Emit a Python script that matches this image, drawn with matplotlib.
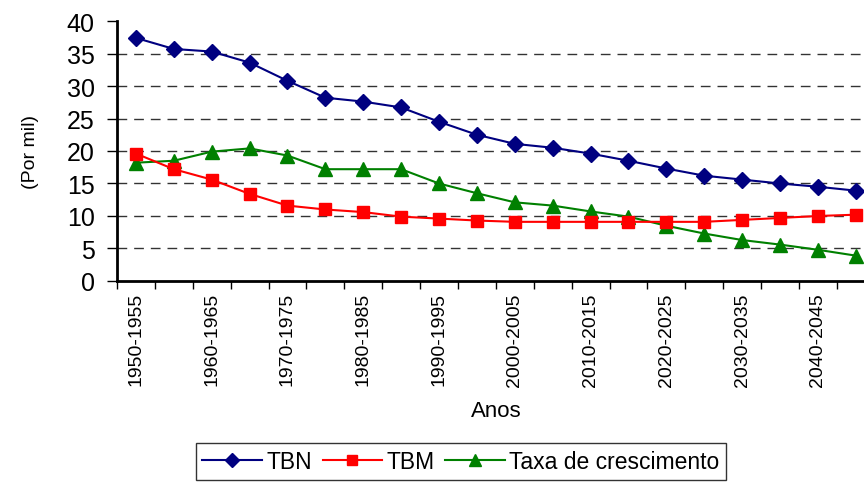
import numpy as np
import matplotlib
matplotlib.use("Agg")
import matplotlib.pyplot as plt

plt.rcParams['font.family'] = ['Liberation Sans', 'DejaVu Sans']

# periods (5-year intervals)
periodos = ['1950-1955', '1955-1960', '1960-1965', '1965-1970', '1970-1975',
            '1975-1980', '1980-1985', '1985-1990', '1990-1995', '1995-2000',
            '2000-2005', '2005-2010', '2010-2015', '2015-2020', '2020-2025',
            '2025-2030', '2030-2035', '2035-2040', '2040-2045', '2045-2050']

# rates per thousand
tbn = [37.4, 35.7, 35.3, 33.6, 30.8, 28.2, 27.6, 26.7, 24.5, 22.5,
       21.1, 20.5, 19.6, 18.5, 17.3, 16.2, 15.6, 15.0, 14.5, 13.9]
tbm = [19.6, 17.2, 15.6, 13.4, 11.6, 11.0, 10.6, 9.9, 9.6, 9.3,
       9.1, 9.1, 9.1, 9.1, 9.1, 9.1, 9.4, 9.7, 10.0, 10.2]
taxa = [18.2, 18.5, 19.9, 20.4, 19.3, 17.2, 17.2, 17.2, 15.0, 13.5,
        12.1, 11.6, 10.7, 9.9, 8.5, 7.3, 6.3, 5.6, 4.8, 3.9]

fig = plt.figure(figsize=(8.64, 4.85), dpi=100)
# plot area runs past the right edge of the figure, as in the original
ax = fig.add_axes([0.1354, 0.4186, 0.877, 0.536])

x = np.arange(len(periodos)) + 0.5
ax.plot(x, tbn, color='#000080', marker='D', markersize=8, lw=1.5,
        label='TBN', clip_on=False, zorder=5)
ax.plot(x, tbm, color='#FF0000', marker='s', markersize=9, lw=1.5,
        label='TBM', clip_on=False, zorder=4)
ax.plot(x, taxa, color='#008000', marker='^', markersize=9.5, lw=1.5,
        label='Taxa de crescimento', clip_on=False, zorder=3)

ax.set_xlim(0, len(periodos))
ax.set_ylim(0, 40)
ax.set_yticks(np.arange(0, 41, 5))
ax.tick_params(axis='y', labelsize=18, length=7, width=1, direction='out', pad=9)

# ticks between categories, labels on every other category
ax.set_xticks(np.arange(len(periodos) + 1))
ax.set_xticklabels([])
ax.tick_params(axis='x', which='major', length=6, width=1, direction='out')
ax.set_xticks(x[::2], minor=True)
ax.set_xticklabels(periodos[::2], minor=True, rotation=90, fontsize=14)
ax.tick_params(axis='x', which='minor', length=0, pad=8)

for yv in range(5, 40, 5):
    ax.axhline(yv, color='#333333', lw=1, ls=(0, (7, 5)), zorder=1)

for s in ['top', 'right']:
    ax.spines[s].set_visible(False)
ax.spines['left'].set_linewidth(2)
ax.spines['bottom'].set_linewidth(2)

ax.set_xlabel('Anos', fontsize=16, labelpad=10)
ax.set_ylabel('(Por mil)', fontsize=14, labelpad=20)

leg = ax.legend(loc='upper center', bbox_to_anchor=(0.454, -0.625),
                bbox_transform=ax.transAxes, ncol=3, fontsize=16.5,
                frameon=True, fancybox=False, edgecolor='black',
                handlelength=2.6, handletextpad=0.2, columnspacing=0.45,
                borderpad=0.3, borderaxespad=0, markerscale=0.85)
leg.get_frame().set_linewidth(1)

fig.savefig('out.png', dpi=100)
